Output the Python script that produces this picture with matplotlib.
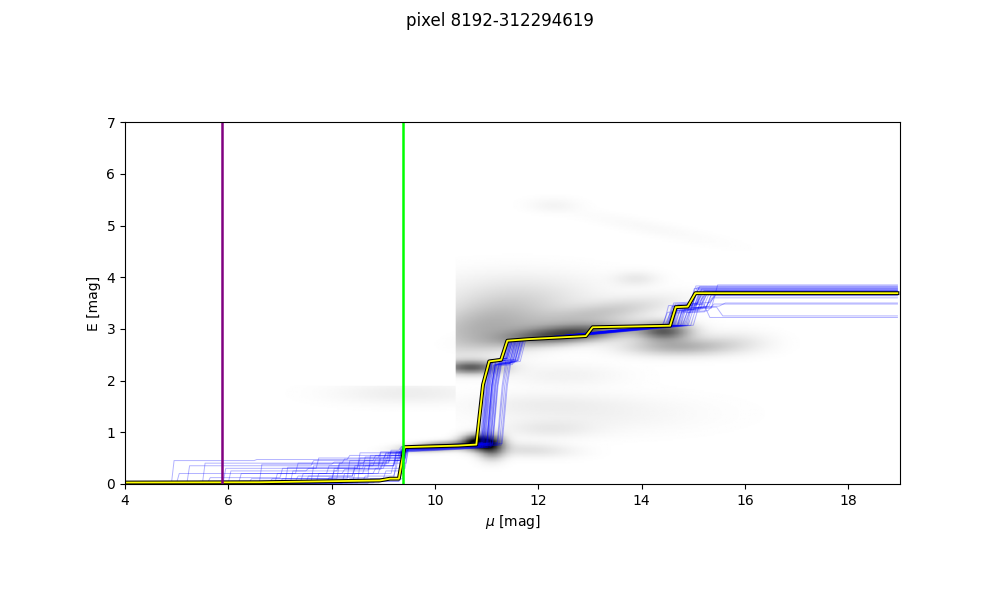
import numpy as np
import matplotlib
matplotlib.use("Agg")
import matplotlib.pyplot as plt

title = "pixel 8192-312294619"
mu_min, mu_max = 4.0, 19.0
E_min, E_max = 0.0, 7.0
mu_purple = 5.87
mu_green = 9.38

# best-fit profile (yellow)
best_mu = [4.0, 6.6, 8.93, 9.13, 9.3, 9.41, 10.45, 10.8, 10.93, 11.05, 11.28, 11.4,
           11.8, 12.92, 13.05, 14.55, 14.66, 14.89, 15.04, 18.95]
best_E = [0.025, 0.03, 0.065, 0.1, 0.1, 0.71, 0.74, 0.76, 1.92, 2.37, 2.4, 2.77,
          2.8, 2.86, 3.03, 3.06, 3.42, 3.43, 3.69, 3.69]

# sampled profiles: low-distance steps (mu, E) and the later jumps
low_steps = [
    [(4.0, 0.02), (8.9, 0.05), (9.3, 0.1)],
    [(4.0, 0.02), (7.5, 0.15), (8.4, 0.3), (9.0, 0.45)],
    [(4.0, 0.02), (5.2, 0.35), (7.6, 0.45), (8.8, 0.55)],
    [(4.0, 0.02), (6.8, 0.1), (8.0, 0.25), (8.7, 0.4), (9.2, 0.6)],
    [(4.0, 0.01), (8.2, 0.2), (8.9, 0.35), (9.2, 0.55)],
    [(4.0, 0.02), (5.6, 0.12), (7.0, 0.3), (8.5, 0.5), (9.1, 0.62)],
    [(4.0, 0.02), (4.9, 0.45), (6.5, 0.47), (8.3, 0.55)],
    [(4.0, 0.02), (7.8, 0.05), (8.6, 0.15), (9.2, 0.3)],
    [(4.0, 0.02), (6.2, 0.2), (7.9, 0.35), (8.9, 0.6)],
    [(4.0, 0.02), (8.5, 0.4), (9.1, 0.55)],
    [(4.0, 0.02), (7.2, 0.25), (8.1, 0.4), (9.0, 0.5)],
    [(4.0, 0.02), (6.0, 0.05), (7.4, 0.2), (8.8, 0.3), (9.25, 0.6)],
    [(4.0, 0.02), (5.9, 0.3), (7.7, 0.5), (8.9, 0.62)],
    [(4.0, 0.01), (8.7, 0.1), (9.2, 0.45)],
    [(4.0, 0.02), (7.0, 0.1), (8.3, 0.45), (9.0, 0.58)],
    [(4.0, 0.02), (6.6, 0.38), (8.0, 0.42), (9.1, 0.65)],
    [(4.0, 0.02), (8.0, 0.3), (8.6, 0.52)],
    [(4.0, 0.02), (5.4, 0.05), (7.3, 0.15), (8.4, 0.35), (9.2, 0.5)],
    [(4.0, 0.02), (7.6, 0.35), (8.8, 0.48)],
    [(4.0, 0.02), (6.9, 0.2), (8.2, 0.28), (8.95, 0.45)],
    [(4.0, 0.02), (8.3, 0.1), (9.0, 0.25), (9.3, 0.6)],
    [(4.0, 0.02), (5.0, 0.2), (7.3, 0.4), (8.6, 0.45)],
    [(4.0, 0.02), (7.9, 0.12), (8.7, 0.55)],
    [(4.0, 0.02), (6.4, 0.1), (8.1, 0.38), (9.05, 0.6)],
    [(4.0, 0.02), (8.4, 0.2), (9.15, 0.4)],
    [(4.0, 0.02), (7.1, 0.32), (8.5, 0.6)],
    [(4.0, 0.02), (8.8, 0.05), (9.3, 0.2)],
    [(4.0, 0.02), (6.0, 0.25), (7.5, 0.3), (8.9, 0.5)],
    [(4.0, 0.02), (7.7, 0.2), (8.6, 0.35), (9.2, 0.62)],
    [(4.0, 0.02), (5.5, 0.4), (8.2, 0.48), (9.0, 0.6)],
]
jump1_mu = [9.38, 9.3, 9.35, 9.4, 9.33, 9.45, 9.3, 9.42, 9.36, 9.39, 9.31, 9.44, 9.34, 9.4, 9.37,
            9.3, 9.36, 9.43, 9.32, 9.41, 9.38, 9.35, 9.33, 9.4, 9.44, 9.31, 9.39, 9.36, 9.42, 9.34]
E1 = [0.7, 0.66, 0.68, 0.72, 0.64, 0.7, 0.67, 0.62, 0.69, 0.71, 0.65, 0.7, 0.68, 0.63, 0.7,
      0.72, 0.66, 0.69, 0.64, 0.71, 0.68, 0.67, 0.7, 0.65, 0.69, 0.72, 0.63, 0.7, 0.66, 0.68]
jump2_mu = [10.9, 11.0, 10.95, 11.22, 10.88, 11.05, 11.28, 10.92, 11.0, 11.08, 10.97, 11.12, 10.9, 11.02, 11.3,
            10.94, 11.06, 10.99, 11.1, 10.87, 11.03, 11.2, 10.96, 11.0, 11.25, 10.93, 11.07, 11.01, 10.91, 11.11]
E2 = [2.36, 2.3, 2.4, 2.33, 2.38, 2.28, 2.35, 2.4, 2.32, 2.37, 2.3, 2.34, 2.39, 2.31, 2.36,
      2.4, 2.33, 2.29, 2.38, 2.35, 2.32, 2.37, 2.3, 2.4, 2.34, 2.36, 2.31, 2.38, 2.33, 2.35]
jump3_mu = [11.35, 11.45, 11.4, 11.55, 11.3, 11.5, 11.6, 11.38, 11.42, 11.52, 11.36, 11.58, 11.33, 11.47, 11.62,
            11.4, 11.5, 11.44, 11.56, 11.32, 11.48, 11.6, 11.39, 11.43, 11.65, 11.37, 11.53, 11.46, 11.34, 11.55]
jump4_mu = [14.6, 14.5, 14.7, 14.45, 14.8, 14.55, 14.9, 14.62, 14.4, 14.75, 14.58, 14.85, 14.52, 14.68, 14.95,
            14.48, 14.72, 14.6, 14.82, 14.5, 14.65, 14.78, 14.42, 14.7, 15.0, 14.57, 14.88, 14.63, 14.53, 14.76]
E4 = [3.42, 3.35, 3.45, 3.3, 3.4, 3.48, 3.38, 3.44, 3.32, 3.46, 3.36, 3.41, 3.5, 3.34, 3.4,
      3.43, 3.37, 3.47, 3.33, 3.44, 3.39, 3.31, 3.45, 3.38, 3.42, 3.36, 3.49, 3.35, 3.41, 3.4]
jump5_mu = [15.05, 15.0, 15.15, 14.95, 15.25, 15.1, 15.35, 15.05, 14.9, 15.2, 15.02, 15.3, 15.0, 15.12, 15.45,
            14.97, 15.18, 15.08, 15.28, 14.98, 15.1, 15.22, 14.93, 15.15, 15.5, 15.04, 15.32, 15.09, 15.01, 15.24]
E_final = [3.7, 3.75, 3.68, 3.8, 3.72, 3.65, 3.85, 3.7, 3.78, 3.22, 3.74, 3.69, 3.82, 3.71, 3.25,
           3.76, 3.67, 3.73, 3.48, 3.79, 3.7, 3.64, 3.83, 3.72, 3.5, 3.77, 3.66, 3.74, 3.71, 3.6]

# density map built from smeared components
blob_mu = [10.1, 10.85, 11.1, 11.8, 9.5, 13.0, 12.0, 10.7, 11.0, 11.5, 12.6, 13.2, 14.45, 14.7, 15.8,
           13.9, 12.5, 12.3, 14.2, 12.2]
blob_E = [0.72, 0.8, 0.7, 0.65, 1.75, 1.35, 1.55, 2.25, 3.05, 3.7, 2.9, 3.3, 2.95, 2.65, 2.75,
          3.97, 2.1, 5.4, 4.95, 1.05]
blob_smu = [0.45, 0.22, 0.18, 0.6, 1.0, 1.5, 1.0, 0.4, 0.9, 1.2, 0.8, 0.9, 0.35, 0.7, 0.5,
            0.3, 0.8, 0.35, 1.0, 0.6]
blob_sE = [0.06, 0.1, 0.15, 0.1, 0.15, 0.25, 0.15, 0.09, 0.35, 0.3, 0.12, 0.15, 0.12, 0.12, 0.15,
           0.1, 0.15, 0.1, 0.1, 0.12]
blob_amp = [0.55, 1.0, 0.55, 0.12, 0.07, 0.05, 0.04, 0.6, 0.3, 0.08, 0.7, 0.2, 0.6, 0.3, 0.08,
            0.08, 0.05, 0.04, 0.025, 0.07]
blob_tilt = [0.06, 0.0, 0.0, -0.03, 0.0, 0.0, 0.0, 0.0, 0.15, 0.0, 0.08, 0.15, 0.0, 0.0, 0.0,
             0.0, 0.0, 0.0, -0.2, 0.0]
blob_xmin = [4, 4, 4, 4, 4, 10.4, 10.4, 10.4, 10.4, 10.4, 4, 4, 4, 4, 4, 4, 4, 4, 4, 4]
blob_xmax = [19, 19, 19, 19, 10.4, 19, 19, 19, 19, 19, 19, 19, 19, 19, 19, 19, 19, 19, 19, 19]
blob_ymax = [7, 7, 7, 7, 1.9, 7, 7, 7, 7, 7, 7, 7, 7, 7, 7, 7, 7, 7, 7, 7]

mm, ee = np.meshgrid(np.linspace(mu_min, mu_max, 600), np.linspace(E_min, E_max, 280))
dens = np.zeros_like(mm)
for i in range(len(blob_mu)):
    ec = blob_E[i] + blob_tilt[i] * (mm - blob_mu[i])
    g = blob_amp[i] * np.exp(-0.5 * ((mm - blob_mu[i]) / blob_smu[i]) ** 2
                             - 0.5 * ((ee - ec) / blob_sE[i]) ** 2)
    g[(mm < blob_xmin[i]) | (mm > blob_xmax[i]) | (ee > blob_ymax[i])] = 0
    dens += g


def sample_path(k):
    pts = []
    prev = None
    for m, e in low_steps[k]:
        if prev is not None:
            pts.append((m, prev))
        pts.append((m + 0.05, e) if prev is not None else (m, e))
        prev = e
    j1, j2, j3, j4, j5 = jump1_mu[k], jump2_mu[k], jump3_mu[k], jump4_mu[k], jump5_mu[k]
    pts += [(j1, prev), (j1 + 0.05, E1[k]), (10.5, E1[k] + 0.05), (j2, E1[k] + 0.08),
            (j2 + 0.1, 1.9), (j2 + 0.17, E2[k]), (j3, E2[k] + 0.03), (j3 + 0.1, 2.77),
            (j4, 3.07), (j4 + 0.1, E4[k]), (j5, E4[k] + 0.02), (j5 + 0.12, E_final[k]),
            (18.95, E_final[k])]
    return np.array(pts)


fig, ax = plt.subplots(figsize=(10, 6), dpi=100)
ax.imshow(dens, origin="lower", extent=[mu_min, mu_max, E_min, E_max],
          cmap="binary", vmin=0, vmax=1.0)

for k in range(len(low_steps)):
    p = sample_path(k)
    ax.plot(p[:, 0], p[:, 1], color="b", alpha=0.3, lw=0.7)

ax.plot(best_mu, best_E, color="k", lw=2.8)
ax.plot(best_mu, best_E, color="yellow", lw=1.3)

ax.axvline(mu_purple, color="purple", lw=1.8)
ax.axvline(mu_green, color="lime", lw=1.8)

ax.set_xlim(mu_min, mu_max)
ax.set_ylim(E_min, E_max)
ax.set_xticks([4, 6, 8, 10, 12, 14, 16, 18])
ax.set_xlabel(r"$\mu$ [mag]")
ax.set_ylabel("E [mag]")
fig.suptitle(title)

fig.savefig("out.png")
